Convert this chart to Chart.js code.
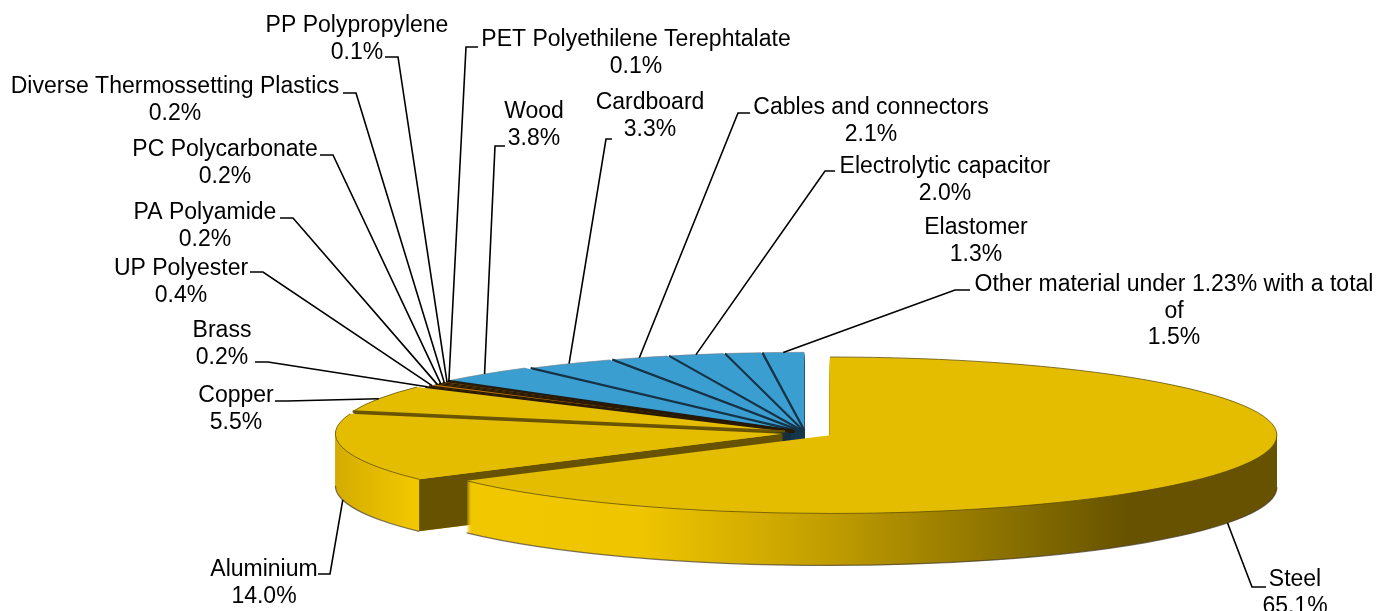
<!DOCTYPE html>
<html>
<head>
<meta charset="utf-8">
<title>Materials</title>
<script src="https://cdn.jsdelivr.net/npm/chart.js@4"></script>
<style>
html, body { margin: 0; padding: 0; background: #fff; }
canvas { display: block; }
</style>
</head>
<body>
<canvas id="myChart" width="1391" height="611"></canvas>
<script>
// values, in pie order (clockwise from 12 o'clock)
var categories = ['Steel', 'Aluminium', 'Copper', 'Brass', 'UP Polyester', 'PA Polyamide', 'PC Polycarbonate',
    'Diverse Thermossetting Plastics', 'PP Polypropylene', 'PET Polyethilene Terephtalate', 'Wood', 'Cardboard',
    'Cables and connectors', 'Electrolytic capacitor', 'Elastomer', 'Other material under 1.23% with a total|of'];
var shares = [65.1, 14.0, 5.5, 0.2, 0.4, 0.2, 0.2, 0.2, 0.1, 0.1, 3.8, 3.3, 2.1, 2.0, 1.3, 1.5];

// layout, same order as categories
var explode = [28, 23, 22, 14, 14, 14, 14, 14, 14, 14, 18, 14, 14, 14, 14, 14];
var labelCenters = [[1295, 580], [264, 570], [236, 396], [222, 331], [181, 269], [205, 213], [225, 150], [175, 87],
    [357, 26], [636, 40], [534, 112], [650, 103], [871, 108], [945, 167], [976, 228], [1174, 285]];
// elbow of the leader: [x at the text, x at the bend, y], null when there is no leader
var leaders = [[1266, 1252, 587], [318, 330, 574], [275, 287, 401], [255, 268, 362], [250, 263, 272], [280, 293, 218],
    [320, 333, 155], [343, 356, 93], [385, 398, 57], [478, 466, 47], [505, 495, 146], [612, 606, 139],
    [750, 738, 113], [835, 825, 171], null, [970, 955, 290]];
var sliceColors = ['#E5BD00', '#E5BD00', '#E5BD00', '#C47A00', '#C47A00', '#C47A00', '#C47A00', '#C47A00',
    '#C47A00', '#C47A00', '#3A9FD0', '#3A9FD0', '#3A9FD0', '#3A9FD0', '#3A9FD0', '#3A9FD0'];
var wallColors = [null, null, '#665200', '#3a2500', '#3a2500', '#3a2500', '#3a2500', '#3a2500', '#3a2500', '#3a2500',
    '#16384c', '#16384c', '#16384c', '#16384c', '#16384c', '#16384c'];
var edgeColors = [null, null, '#6a5500', '#2a1a00', '#2a1a00', '#2a1a00', '#2a1a00', '#2a1a00', '#2a1a00', '#2a1a00',
    '#1d1d1d', '#173246', '#173246', '#173246', '#173246', '#173246'];

var CENTER_X = 805, CENTER_Y = 433, RADIUS = 447, TILT = 0.175, DEPTH = 52;

function wallGradient(ctx, shift) {
    var w = 1391;
    var g = ctx.createLinearGradient(-shift, 0, w - shift, 0);
    g.addColorStop(335 / w, '#D4AC00');
    g.addColorStop(417 / w, '#F2C800');
    g.addColorStop(640 / w, '#EFC500');
    g.addColorStop(800 / w, '#C9A400');
    g.addColorStop(1000 / w, '#8C7200');
    g.addColorStop(1130 / w, '#665200');
    g.addColorStop(1, '#665200');
    return g;
}

function offsetOf(arc, i) {
    var mid = (arc.startAngle + arc.endAngle) / 2;
    return { x: Math.cos(mid) * explode[i], y: Math.sin(mid) * explode[i], mid: mid };
}

// page position of a point on the top face of a slice
function project(arc, off, angle, r, drop) {
    return {
        x: arc.x + off.x + Math.cos(angle) * r,
        y: arc.y + (off.y + Math.sin(angle) * r) * TILT + (drop || 0)
    };
}

function tilted(ctx, arc, drop) {
    ctx.setTransform(1, 0, 0, TILT, 0, arc.y * (1 - TILT) + drop);
}

function wedge(ctx, arc, off) {
    ctx.beginPath();
    ctx.moveTo(arc.x + off.x, arc.y + off.y);
    ctx.arc(arc.x + off.x, arc.y + off.y, arc.outerRadius, arc.startAngle, arc.endAngle);
    ctx.closePath();
}

var pie3d = {
    id: 'pie3d',
    beforeDatasetsDraw: function(chart) {
        var ctx = chart.ctx;
        var arcs = chart.getDatasetMeta(0).data;
        ctx.save();
        for (var i = arcs.length - 1; i >= 0; i--) {
            var arc = arcs[i];
            var off = offsetOf(arc, i);
            // side wall, stacked down from the top face
            ctx.fillStyle = wallColors[i] || wallGradient(ctx, 0);
            for (var d = DEPTH; d > 0; d--) {
                tilted(ctx, arc, d);
                wedge(ctx, arc, off);
                ctx.fill();
            }
            // outline of the wall bottom
            if (i < 2) {
                tilted(ctx, arc, DEPTH);
                ctx.beginPath();
                ctx.arc(arc.x + off.x, arc.y + off.y, arc.outerRadius, Math.max(arc.startAngle, 0), Math.min(arc.endAngle, Math.PI));
                ctx.setTransform(1, 0, 0, 1, 0, 0);
                ctx.strokeStyle = 'rgba(70,60,40,0.7)';
                ctx.lineWidth = 1.2;
                ctx.stroke();
            }
            // the cut face of the aluminium wedge looks at the viewer
            if (i === 1) {
                var a = project(arc, off, arc.startAngle, arc.outerRadius);
                var c = project(arc, off, arc.startAngle, 0);
                ctx.setTransform(1, 0, 0, 1, 0, 0);
                ctx.fillStyle = '#665200';
                ctx.beginPath();
                ctx.moveTo(a.x, a.y);
                ctx.lineTo(c.x, c.y);
                ctx.lineTo(c.x, c.y + DEPTH);
                ctx.lineTo(a.x, a.y + DEPTH);
                ctx.closePath();
                ctx.fill();
            }
            // top face comes from the library's arc element
            tilted(ctx, arc, 0);
            ctx.translate(off.x, off.y);
            arc.draw(ctx);
            ctx.setTransform(1, 0, 0, 1, 0, 0);
            // rim line
            tilted(ctx, arc, 0);
            ctx.beginPath();
            ctx.arc(arc.x + off.x, arc.y + off.y, arc.outerRadius, arc.startAngle, arc.endAngle);
            ctx.setTransform(1, 0, 0, 1, 0, 0);
            ctx.strokeStyle = i < 3 ? 'rgba(90,75,0,0.75)' : 'rgba(110,120,130,0.6)';
            ctx.lineWidth = 1;
            ctx.stroke();
            // dark seam along the slice start
            if (edgeColors[i]) {
                var e = project(arc, off, arc.startAngle, arc.outerRadius);
                var o = project(arc, off, arc.startAngle, 0);
                ctx.strokeStyle = edgeColors[i];
                ctx.lineWidth = 2.4;
                ctx.beginPath();
                ctx.moveTo(e.x, e.y);
                ctx.lineTo(o.x, o.y);
                ctx.stroke();
            }
        }
        ctx.restore();
        return false;
    },
    afterDraw: function(chart) {
        var ctx = chart.ctx;
        var arcs = chart.getDatasetMeta(0).data;
        ctx.save();
        ctx.font = '23px "Liberation Sans"';
        ctx.textAlign = 'center';
        ctx.textBaseline = 'middle';
        ctx.fillStyle = '#000';
        ctx.strokeStyle = '#000';
        ctx.lineWidth = 1.6;
        for (var i = 0; i < arcs.length; i++) {
            var lines = categories[i].split('|').concat(shares[i].toFixed(1) + '%');
            for (var l = 0; l < lines.length; l++) {
                ctx.fillText(lines[l], labelCenters[i][0], labelCenters[i][1] + l * 26.4);
            }
            if (!leaders[i]) continue;
            var off = offsetOf(arcs[i], i);
            var front = Math.sin(off.mid) > 0.15 && i < 2;
            var p = project(arcs[i], off, off.mid, arcs[i].outerRadius, front ? DEPTH : 0);
            ctx.beginPath();
            ctx.moveTo(leaders[i][0], leaders[i][2]);
            ctx.lineTo(leaders[i][1], leaders[i][2]);
            ctx.lineTo(p.x, p.y);
            ctx.stroke();
        }
        ctx.restore();
    }
};

var chart = new Chart(document.getElementById('myChart'), {
    type: 'pie',
    data: {
        labels: categories,
        datasets: [{
            data: shares,
            backgroundColor: sliceColors,
            borderWidth: 0,
            clip: false
        }]
    },
    options: {
        responsive: false,
        animation: false,
        radius: RADIUS,
        layout: { padding: { left: 2 * CENTER_X - 1391, top: 2 * CENTER_Y - 611 } },
        plugins: { legend: { display: false }, tooltip: { enabled: false } }
    },
    plugins: [pie3d]
});
</script>
</body>
</html>
